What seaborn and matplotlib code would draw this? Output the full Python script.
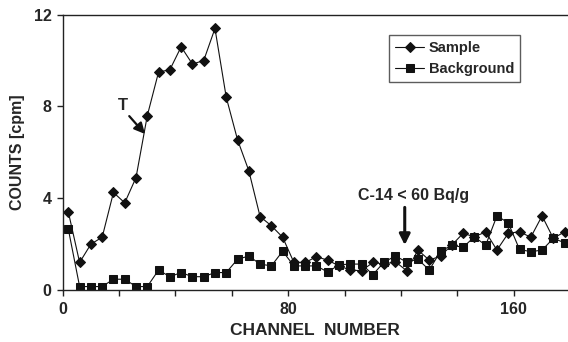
import matplotlib
matplotlib.use("Agg")
import matplotlib.pyplot as plt
import seaborn as sns
import numpy as np
import pandas as pd

channels = list(range(2, 179, 4))
sample = [3.4, 1.2, 2.0, 2.3, 4.25, 3.8, 4.9, 7.6, 9.5, 9.6, 10.6, 9.85, 10.0, 11.4,
          8.4, 6.55, 5.2, 3.2, 2.8, 2.3, 1.2, 1.2, 1.45, 1.3, 1.05, 0.87, 0.84, 1.2,
          1.13, 1.23, 0.84, 1.74, 1.3, 1.48, 1.96, 2.47, 2.32, 2.53, 1.74, 2.47, 2.54,
          2.3, 3.23, 2.25, 2.54]
background = [2.65, 0.15, 0.15, 0.15, 0.47, 0.47, 0.15, 0.15, 0.87, 0.58, 0.76, 0.58,
              0.58, 0.76, 0.76, 1.34, 1.48, 1.13, 1.05, 1.69, 1.05, 1.05, 1.05, 0.78,
              1.1, 1.13, 1.13, 0.67, 1.22, 1.48, 1.22, 1.34, 0.87, 1.69, 1.95, 1.86,
              2.32, 1.95, 3.23, 2.93, 1.77, 1.67, 1.74, 2.25, 2.06]
x_ticklabels = {0: "0", 80: "80", 160: "160"}
y_ticks = [0, 4, 8, 12]

sns.set_style("white")
plt.rcParams['font.family'] = ['Liberation Sans', 'DejaVu Sans']
plt.rcParams['font.weight'] = 'bold'

fig = plt.figure(figsize=(5.68, 3.42), dpi=100)
ax = fig.add_axes([62.7/568, 1-290/342, (568-62.7)/568, (290-14.7)/342])

df = pd.DataFrame({"ch": channels, "Sample": sample, "Background": background})
col = "#111111"
sns.lineplot(data=df, x="ch", y="Sample", ax=ax, color=col, lw=0.8, marker="D",
             markersize=5.2, markeredgecolor=col, label="Sample")
sns.lineplot(data=df, x="ch", y="Background", ax=ax, color=col, lw=0.8, marker="s",
             markersize=5.8, markeredgecolor=col, label="Background")

ax.set_xlim(0, 179.2)
ax.set_ylim(0, 12)
ax.set_xticks(range(0, 180, 20))
ax.set_xticklabels([x_ticklabels.get(t, "") for t in range(0, 180, 20)])
ax.set_yticks(y_ticks)
ax.set_yticklabels([str(t) for t in y_ticks])
ax.tick_params(axis='both', direction='out', length=4, width=1, color='#222222',
               labelsize=11.5, bottom=True, left=True)
ax.tick_params(axis='x', pad=5)
ax.tick_params(axis='y', pad=4)
for lab in ax.get_xticklabels() + ax.get_yticklabels():
    lab.set_fontweight('bold')

for s in ['left', 'top', 'bottom']:
    ax.spines[s].set_visible(True)
    ax.spines[s].set_color('#222222')
    ax.spines[s].set_linewidth(1)
ax.spines['right'].set_visible(False)

ax.set_xlabel("CHANNEL  NUMBER", fontsize=12.5, fontweight='bold', labelpad=4)
ax.set_ylabel("COUNTS [cpm]", fontsize=11.5, fontweight='bold', labelpad=6)

ax.text(21.5, 8.06, "T", fontsize=12, fontweight='bold', ha='center', va='center')
ax.annotate("", xy=(29.2, 6.8), xytext=(23.6, 7.58),
            arrowprops=dict(arrowstyle='-|>', color='#111111', lw=1.6,
                            mutation_scale=16, shrinkA=0, shrinkB=0))
ax.text(124.6, 4.1, "C-14 < 60 Bq/g", fontsize=11.5, fontweight='bold',
        ha='center', va='center')
ax.annotate("", xy=(121.3, 1.96), xytext=(121.3, 3.6),
            arrowprops=dict(arrowstyle='-|>', color='#111111', lw=2.2,
                            mutation_scale=16, shrinkA=0, shrinkB=0))

leg = ax.legend(loc='upper left', bbox_to_anchor=((389.3-62.7)/505.3, 1-(35-14.7)/275.3),
                frameon=True, fancybox=False, fontsize=10.5, handlelength=2.0,
                borderpad=0.4, labelspacing=0.5, handletextpad=0.3, borderaxespad=0)
leg.get_frame().set_edgecolor('#333333')
leg.get_frame().set_linewidth(1)
for t in leg.get_texts():
    t.set_fontweight('bold')

fig.savefig("out.png", dpi=100)
